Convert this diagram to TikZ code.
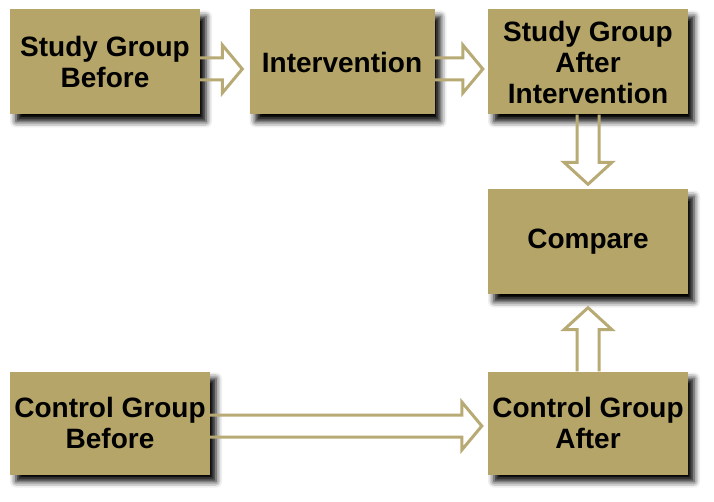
\documentclass[tikz,border=0pt]{standalone}
\usepackage{fontspec}
\setmainfont{Liberation Sans}
\usetikzlibrary{calc,shadows.blur}
\definecolor{khaki}{RGB}{181,165,104}
\definecolor{arrowkhaki}{RGB}{184,170,116}

\begin{document}
\begin{tikzpicture}[x=1pt,y=-1pt]
    \tikzstyle{box}=[rectangle,fill=khaki,minimum height=105pt,inner sep=0pt,align=center,
      font=\fontsize{28}{31}\selectfont\bfseries,
      blur shadow={shadow xshift=6pt,shadow yshift=-7pt,shadow blur radius=6pt,shadow opacity=100}]
    \tikzstyle{wide box}=[box,minimum width=200pt]
    \tikzstyle{hollow}=[draw=arrowkhaki,line width=3pt,line join=miter]
    \tikzstyle{hollow right}=[hollow,to path={let \p1=(\tikztostart), \p2=(\tikztotarget) in
      (\x1,\y1+11) -- (\x2-20,\y1+11) -- (\x2-20,\y1+24) -- (\x2,\y1)
      -- (\x2-20,\y1-24) -- (\x2-20,\y1-11) -- (\x1,\y1-11)}]
    \tikzstyle{hollow down}=[hollow,to path={let \p1=(\tikztostart), \p2=(\tikztotarget) in
      (\x1-11,\y1) -- (\x1-11,\y2+22) -- (\x1-24,\y2+22) -- (\x1,\y2)
      -- (\x1+24,\y2+22) -- (\x1+11,\y2+22) -- (\x1+11,\y1)}]
    \tikzstyle{hollow up}=[hollow,to path={let \p1=(\tikztostart), \p2=(\tikztotarget) in
      (\x1-11,\y1) -- (\x1-11,\y2-22) -- (\x1-24,\y2-22) -- (\x1,\y2)
      -- (\x1+24,\y2-22) -- (\x1+11,\y2-22) -- (\x1+11,\y1)}]

    \useasboundingbox (0,0) rectangle (714,502);

    % Draw the study group row
    \node[box,minimum width=190pt] (SB) at (105,62) {Study Group\\Before};
    \node[box,minimum width=185pt] (IV) at (342,62) {Intervention};
    \node[wide box] (SA) at (588,62) {Study Group\\After\\Intervention};

    % Draw the comparison box
    \node[wide box] (CP) at (588,242) {Compare};

    % Draw the control group row
    \node[wide box,minimum height=103pt] (CB) at (110,423) {Control Group\\Before};
    \node[wide box,minimum height=103pt] (CA) at (588,423) {Control Group\\After};

    % Connect the boxes with hollow arrows
    \draw[hollow right] ([yshift=-7pt]SB.east) to ([xshift=-7pt,yshift=-7pt]IV.west);
    \draw[hollow right] ([yshift=-7pt]IV.east) to ([xshift=-5pt,yshift=-7pt]SA.west);
    \draw[hollow down] (SA.south) to ([yshift=5pt]CP.north);
    \draw[hollow up] (CA.north) to ([yshift=-13pt]CP.south);
    \draw[hollow right] ([yshift=-3pt]CB.east) to ([xshift=-6pt,yshift=-3pt]CA.west);
\end{tikzpicture}
\end{document}
